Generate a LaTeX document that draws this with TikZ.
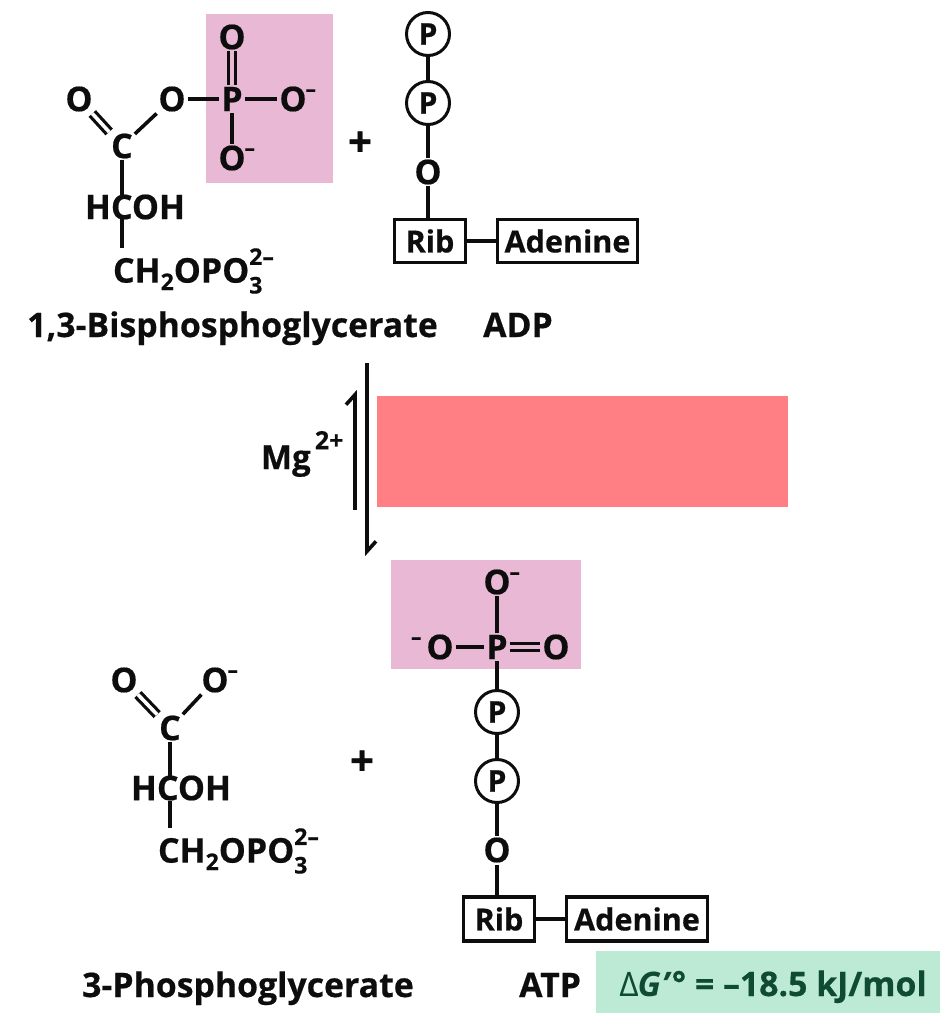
\documentclass[tikz,border=0pt]{standalone}
\usepackage{fontspec}
\setmainfont{Open Sans}[BoldFont={Open Sans Bold},BoldFeatures={FakeBold=0.5}]
\usetikzlibrary{arrows.meta}
\definecolor{pinkbox}{HTML}{E8B8D4}
\definecolor{redbox}{HTML}{FF7F84}
\definecolor{greenbox}{HTML}{BDEAD5}
\definecolor{greentext}{HTML}{0F4A33}
\definecolor{ink}{HTML}{0D0D0D}
\tikzset{
  atom/.style={inner sep=0pt,outer sep=2pt,font=\fontsize{34}{34}\selectfont\bfseries,text=ink},
  formula/.style={inner sep=0pt,outer sep=0pt,font=\fontsize{34}{34}\selectfont\bfseries,text=ink},
  caption/.style={inner sep=0pt,font=\fontsize{33.8}{34}\selectfont\bfseries,text=ink},
  bond/.style={draw=ink,line width=3.6pt},
  dblbond/.style={draw=ink,line width=3.2pt,double distance=3.6pt},
  circled/.style={circle,draw=ink,line width=3pt,fill=white,minimum size=43pt,inner sep=0pt,font=\fontsize{30}{30}\selectfont\bfseries,text=ink},
  boxed/.style={rectangle,draw=ink,line width=3.4pt,fill=white,inner sep=0pt,font=\fontsize{30.5}{31}\selectfont\bfseries,text=ink},
  panel/.style={inner sep=0pt,outer sep=0pt,draw=none},
  eqarrow/.style={draw=ink,line width=3.6pt}
}
\newcommand{\chainchem}{CH\raisebox{-0.22em}{\fontsize{23}{23}\selectfont 2}OPO\rlap{\raisebox{0.52em}{\fontsize{23}{23}\selectfont 2–}}\raisebox{-0.32em}{\fontsize{23}{23}\selectfont 3}\phantom{\fontsize{23}{23}\selectfont –}}
\newcommand{\chargeminus}{\raisebox{0.42em}{\fontsize{21}{21}\selectfont –}}
\begin{document}
\begin{tikzpicture}[x=1pt,y=-1pt]
\useasboundingbox (0,0) rectangle (940,1014);
% shaded panels
\node[panel,fill=pinkbox,minimum width=127pt,minimum height=169pt] (pa) at (269.5,98.5) {};
\node[panel,fill=redbox,minimum width=411pt,minimum height=111pt] (rb) at (582.5,451.5) {};
\node[panel,fill=pinkbox,minimum width=190pt,minimum height=109pt] (pb) at (486,614.5) {};
\node[panel,fill=greenbox,minimum width=344pt,minimum height=62pt] (gb) at (768,982) {};
% top-left molecule
\node[atom] (o1) at (79,99) {O};
\node[atom] (c1) at (122,146) {C};
\node[atom] (o2) at (172,99) {O};
\node[atom] (p1) at (232,99) {P};
\node[atom] (o3) at (232,37) {O};
\node[atom] (o4) at (293,99) {O};
\node[atom,anchor=west,outer sep=0pt] (m1) at (o4.east) [xshift=-3pt,yshift=-1pt] {\chargeminus};
\node[atom] (o5) at (232,158) {O};
\node[atom,anchor=west,outer sep=0pt] (m2) at (o5.east) [xshift=-3pt,yshift=-1pt] {\chargeminus};
\node[formula,anchor=center] (h1) at (135,207) {HCOH};
\node[formula,anchor=west] (ch1) at (113,271) {\chainchem};
\draw[dblbond,double=white] (o1) -- (c1);
\draw[bond] (c1) -- (o2);
\draw[bond] (o2) -- (p1);
\draw[bond] (p1) -- (o4);
\draw[bond] (p1) -- (o5);
\draw[dblbond,double=pinkbox] (o3) -- (p1);
\draw[bond] (c1.south) -- (c1.south |- h1.north);
\draw[bond] (c1.south |- h1.south) -- (c1.south |- ch1.north);
% top ADP
\node[caption,font=\fontsize{42}{42}\selectfont\bfseries] (plus1) at (360,144) {+};
\node[circled] (pc1) at (428,34) {P};
\node[circled] (pc2) at (428,103) {P};
\node[atom] (o6) at (428,172) {O};
\node[boxed,minimum width=71pt,minimum height=43pt] (rib1) at (430,241) {Rib};
\node[boxed,minimum width=140pt,minimum height=43pt] (ade1) at (567.5,241) {Adenine};
\draw[bond] (pc1) -- (pc2);
\draw[bond] (pc2) -- (o6);
\draw[bond] (o6) -- (o6 |- rib1.north);
\draw[bond] (rib1) -- (ade1);
\node[caption,anchor=base west] (t1) at (27,337) {1,3-Bisphosphoglycerate};
\node[caption,anchor=base west] (t2) at (483,337) {ADP};
% equilibrium arrows
\coordinate (aa) at (367,363);
\coordinate (ab) at (367,556);
\coordinate (ba) at (355,510);
\coordinate (bb) at (355,390);
\draw[eqarrow,-{Straight Barb[harpoon,length=10pt,width=18pt,line width=3.6pt]}] (aa) -- (ab);
\draw[eqarrow,-{Straight Barb[harpoon,length=10pt,width=18pt,line width=3.6pt]}] (ba) -- (bb);
\node[formula,font=\fontsize{33}{33}\selectfont\bfseries,anchor=base west] (mg) at (261,469) {Mg\raisebox{0.6em}{\fontsize{25}{25}\selectfont\,2+}};
% lower ATP
\node[atom] (o7) at (497,582) {O};
\node[atom,anchor=west,outer sep=0pt] (m3) at (o7.east) [xshift=-3pt,yshift=-1pt] {\chargeminus};
\node[atom] (p2) at (497,647) {P};
\node[atom] (o8) at (440,647) {O};
\node[atom,anchor=east,outer sep=0pt] (m4) at (o8.west) [xshift=-3pt,yshift=-1pt] {\chargeminus};
\node[atom] (o9) at (556,647) {O};
\draw[bond] (o7) -- (p2);
\draw[bond] (o8) -- (p2);
\draw[dblbond,double=pinkbox] (p2) -- (o9);
\node[circled] (pc3) at (497,712) {P};
\node[circled] (pc4) at (497,781) {P};
\node[atom] (o10) at (497,850) {O};
\node[boxed,minimum width=71pt,minimum height=44pt] (rib2) at (499,919) {Rib};
\node[boxed,minimum width=141pt,minimum height=44pt] (ade2) at (637,919) {Adenine};
\draw[bond] (p2) -- (pc3);
\draw[bond] (pc3) -- (pc4);
\draw[bond] (pc4) -- (o10);
\draw[bond] (o10) -- (o10 |- rib2.north);
\draw[bond] (rib2) -- (ade2);
% lower-left molecule
\node[caption,font=\fontsize{42}{42}\selectfont\bfseries] (plus2) at (362,763) {+};
\node[atom] (o11) at (124,680) {O};
\node[atom] (o12) at (215,680) {O};
\node[atom,anchor=west,outer sep=0pt] (m5) at (o12.east) [xshift=-3pt,yshift=-1pt] {\chargeminus};
\node[atom] (c2) at (170,728) {C};
\node[formula] (h2) at (181,788) {HCOH};
\node[formula,anchor=west] (ch2) at (158,851) {\chainchem};
\draw[dblbond,double=white] (o11) -- (c2);
\draw[bond] (c2) -- (o12);
\draw[bond] (c2.south) -- (c2.south |- h2.north);
\draw[bond] (c2.south |- h2.south) -- (c2.south |- ch2.north);
% captions
\node[caption,anchor=base west] (t3) at (82,997) {3-Phosphoglycerate};
\node[caption,anchor=base west] (t4) at (519,997) {ATP};
\node[caption,anchor=base,text=greentext] (dg) at (773,996) {{\mdseries Δ}\kern-1pt\textit{G}\kern1pt\textit{'}\raisebox{0.02em}{°} = –18.5 kJ/mol};
\end{tikzpicture}
\end{document}
